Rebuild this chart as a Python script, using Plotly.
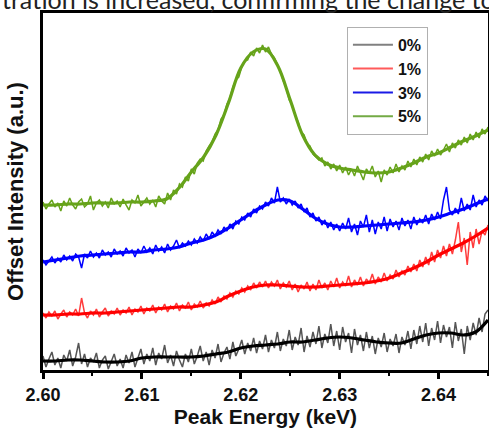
import numpy as np
import plotly.graph_objects as go

# ---------------- data ----------------
energy_raw = np.round(np.linspace(2.600, 2.645, 151), 4)
energy_fit = np.round(np.linspace(2.600, 2.645, 37), 5)

labels = ["0%", "1%", "3%", "5%"]

raw_0 = [14, 3, 11, 18, 5, 12, 2, 15, 9, 20, 4, 13, 27, 6, 16, 3, 12, 8, 17, 2,
         10, 14, 1, 9, 16, 4, 11, 2, 15, 7, 18, 3, 13, 21, 6, 16, 9, 22, 5, 17,
         11, 25, 7, 15, 4, 19, 10, 3, 16, 8, 21, 6, 14, 24, 9, 18, 5, 20, 12, 26,
         8, 17, 23, 11, 28, 14, 21, 30, 16, 27, 19, 32, 17, 29, 21, 35, 18, 30, 22, 38,
         19, 31, 24, 40, 20, 33, 25, 42, 18, 34, 23, 38, 26, 44, 22, 36, 27, 46, 24, 39,
         20, 43, 28, 37, 17, 41, 25, 35, 19, 38, 22, 34, 16, 32, 23, 37, 18, 31, 24, 36,
         17, 33, 25, 39, 21, 40, 26, 44, 28, 47, 24, 42, 30, 49, 27, 45, 33, 43, 22, 48,
         29, 41, 16, 44, 30, 47, 35, 52, 38, 56, 60]

raw_1 = [57, 52, 58, 54, 59, 51, 56, 60, 53, 58, 55, 61, 54, 72, 57, 52, 59, 55, 61, 53,
         58, 62, 54, 59, 56, 62, 55, 60, 57, 63, 55, 61, 58, 64, 56, 62, 59, 65, 57, 63,
         60, 66, 58, 64, 61, 67, 59, 65, 62, 68, 60, 66, 63, 69, 62, 67, 64, 70, 66, 73,
         68, 74, 71, 77, 73, 79, 76, 82, 78, 84, 80, 87, 82, 88, 83, 89, 82, 88, 84, 90,
         81, 87, 83, 89, 80, 86, 78, 85, 81, 88, 79, 86, 80, 90, 82, 87, 80, 89, 83, 92,
         82, 88, 84, 94, 83, 90, 85, 93, 84, 91, 87, 96, 86, 93, 88, 97, 89, 95, 91, 100,
         93, 99, 95, 104, 98, 106, 99, 110, 103, 113, 105, 118, 108, 120, 112, 124, 114, 126, 116, 130,
         148, 118, 132, 105, 138, 122, 141, 126, 139, 135, 145]

raw_3 = [110, 105, 109, 113, 107, 112, 108, 115, 110, 114, 109, 116, 113, 102, 116, 112, 119, 113, 117, 112,
         120, 115, 118, 113, 121, 116, 119, 114, 122, 117, 120, 113, 121, 117, 124, 118, 122, 116, 125, 119,
         123, 117, 126, 120, 124, 130, 122, 127, 124, 129, 125, 131, 127, 133, 129, 136, 131, 138, 134, 140,
         136, 143, 139, 146, 141, 149, 146, 153, 150, 157, 153, 161, 157, 164, 161, 168, 164, 172, 167, 183,
         168, 172, 166, 171, 165, 169, 162, 166, 158, 162, 153, 157, 149, 153, 145, 150, 142, 148, 140, 146,
         139, 147, 141, 152, 138, 146, 135, 149, 143, 155, 138, 150, 136, 148, 141, 153, 139, 151, 143, 149,
         140, 152, 144, 150, 141, 153, 145, 151, 147, 155, 146, 156, 150, 158, 151, 170, 183, 160, 155, 162,
         156, 172, 159, 166, 160, 175, 163, 170, 165, 174, 169]

raw_5 = [168, 161, 166, 170, 163, 167, 159, 169, 164, 172, 165, 161, 168, 171, 163, 166, 174, 160, 167, 170,
         164, 168, 162, 172, 166, 169, 163, 171, 165, 160, 170, 167, 175, 164, 168, 172, 166, 170, 163, 174,
         169, 166, 177, 170, 180, 176, 186, 183, 193, 189, 201, 196, 207, 211, 209, 219, 224, 228, 236, 240,
         251, 255, 266, 272, 283, 290, 293, 303, 309, 310, 318, 314, 322, 317, 325, 318, 323, 316, 312, 306,
         299, 289, 282, 270, 265, 255, 248, 238, 235, 226, 224, 216, 213, 210, 212, 204, 208, 201, 206, 199,
         205, 197, 203, 195, 201, 194, 204, 196, 190, 201, 197, 204, 193, 199, 188, 200, 195, 203, 197, 206,
         198, 204, 200, 209, 203, 211, 205, 213, 208, 216, 210, 219, 214, 221, 215, 220, 226, 218, 227, 222,
         230, 225, 233, 227, 236, 230, 238, 232, 241, 236, 243]

fit_0 = [9, 9, 10, 10, 9, 8, 8, 9, 12, 13, 13, 13, 13, 14, 16, 18, 22, 24, 25, 26,
         28, 28, 30, 32, 33, 32, 30, 28, 27, 27, 31, 35, 37, 37, 35, 38, 50]
fit_1 = [55, 55, 56, 56, 57, 57, 58, 59, 60, 61, 62, 63, 63, 65, 68, 74, 79, 83, 85, 85,
         84, 83, 83, 84, 85, 86, 87, 89, 92, 97, 102, 108, 115, 121, 127, 134, 142]
fit_3 = [108, 110, 112, 114, 115, 116, 117, 118, 118, 120, 121, 123, 127, 130, 135, 142, 150, 158, 165, 170,
         169, 161, 152, 146, 143, 143, 144, 145, 146, 147, 148, 150, 153, 157, 161, 166, 171]
fit_5 = [165, 165, 166, 166, 167, 167, 167, 168, 168, 169, 171, 182, 198, 213, 235, 267, 302, 318, 321, 304,
         270, 235, 215, 206, 202, 200, 198, 197, 198, 202, 207, 213, 217, 223, 229, 234, 240]

x_ticks = [2.60, 2.61, 2.62, 2.63, 2.64]
x_tick_text = ["2.60", "2.61", "2.62", "2.63", "2.64"]

raw_series = [raw_0, raw_1, raw_3, raw_5]
fit_series = [fit_0, fit_1, fit_3, fit_5]
raw_colors = ["#555555", "#ff3b3b", "#0000ff", "#66a31a"]
fit_colors = ["#000000", "#ff0000", "#0000ff", "#66a31a"]
legend_colors = ["#808080", "#ff5a5a", "#1a1ae6", "#73aa45"]

# ---------------- figure ----------------
fig = go.Figure()

for lab, raw, rc in zip(labels, raw_series, raw_colors):
    fig.add_trace(go.Scatter(
        x=energy_raw, y=raw, mode="lines", name=lab,
        line=dict(color=rc, width=1.5), showlegend=False, hoverinfo="skip"))

for lab, fit, fc in zip(labels, fit_series, fit_colors):
    fig.add_trace(go.Scatter(
        x=energy_fit, y=fit, mode="lines", name=lab + " fit",
        line=dict(color=fc, width=3.2, shape="spline", smoothing=1.0),
        showlegend=False, hoverinfo="skip"))

# legend-only entries
for lab, lc in zip(labels, legend_colors):
    fig.add_trace(go.Scatter(
        x=[None], y=[None], mode="lines", name=lab,
        line=dict(color=lc, width=2)))

fig.update_layout(
    width=489, height=436,
    margin=dict(l=43, r=1, t=13, b=66, autoexpand=False),
    paper_bgcolor="white", plot_bgcolor="white",
    font=dict(family="Liberation Sans, Arial, sans-serif", color="#111111"),
    showlegend=True,
    legend=dict(
        x=0.683, y=0.961, xanchor="left", yanchor="top",
        bgcolor="white", bordercolor="#b0b0b0", borderwidth=1,
        font=dict(size=16, weight="bold", color="#111111"),
        tracegroupgap=0, itemwidth=40),
    annotations=[dict(
        text="tration is increased, confirming the change to",
        xref="paper", yref="paper", x=-43 / 445, y=1.0,
        xanchor="left", yanchor="bottom", yshift=-3, showarrow=False,
        font=dict(family="Lato, Open Sans, sans-serif", size=25, color="#222222"))],
)

fig.update_xaxes(
    range=[2.600, 2.645],
    tickvals=x_ticks, ticktext=x_tick_text,
    ticks="outside", ticklen=6, tickwidth=2.5, tickcolor="black",
    minor=dict(dtick=0.005, ticks="outside", ticklen=3, tickwidth=2, tickcolor="black"),
    tickfont=dict(size=18, weight="bold", color="#111111"),
    showline=True, linewidth=3, linecolor="black", mirror=True,
    showgrid=False, zeroline=False, automargin=False,
    title=dict(text="Peak Energy (keV)", font=dict(size=21, weight="bold", color="#111111"), standoff=2),
)

fig.update_yaxes(
    range=[0, 357],
    showticklabels=False, ticks="",
    showline=True, linewidth=3, linecolor="black", mirror=True,
    showgrid=False, zeroline=False, automargin=False,
    title=dict(text="Offset Intensity (a.u.)", font=dict(size=22, weight="bold", color="#111111"), standoff=11),
)

fig.write_html(
    "out.html",
    config={"displayModeBar": False},
    post_script="document.body.style.margin='0';document.body.style.padding='0';",
)
